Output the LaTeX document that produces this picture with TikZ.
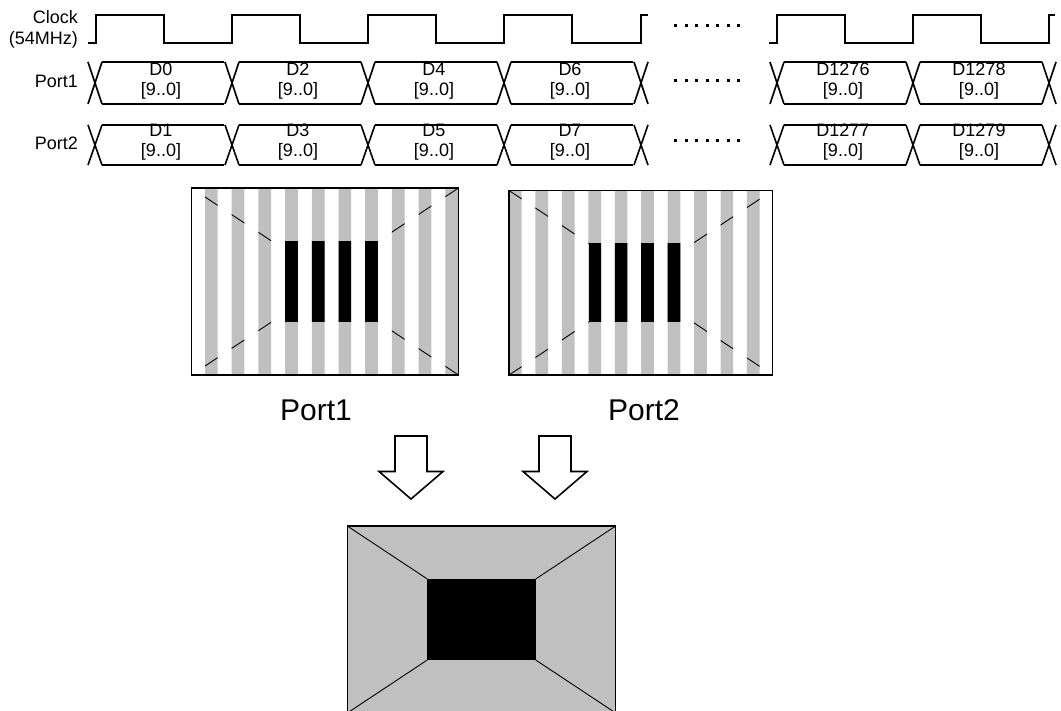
\documentclass[tikz,border=0pt]{standalone}
\usepackage{fontspec}
\setmainfont{Liberation Sans}
\usetikzlibrary{arrows.meta}
\definecolor{midgray}{HTML}{C0C0C0}

% one test frame: gray field, black centre, lines from the corners
\newcommand{\testframe}[4]{%
  \fill[midgray] (#1,#2) rectangle (#3,#4);
  \fill[black] (#1+80,#2+53) rectangle (#3-80,#4-53);
  \draw[diag] (#1,#2) -- (#1+80,#2+53) (#3,#2) -- (#3-80,#2+53)
    (#1,#4) -- (#1+80,#4-53) (#3,#4) -- (#3-80,#4-53);}

\begin{document}
\begin{tikzpicture}[
  x=1pt, y=-1pt,
  sig/.style={line width=1.6pt},
  frame/.style={draw, line width=1.5pt},
  diag/.style={line width=0.9pt},
  blockarrow/.style={draw, fill=white, line width=1.6pt, line join=miter},
  lbl/.style={font=\fontsize{18}{20}\selectfont, inner sep=0pt, align=center},
  rowlbl/.style={font=\fontsize{18}{21}\selectfont, inner sep=0pt, align=right, anchor=east},
  caplbl/.style={font=\fontsize{30}{32}\selectfont, inner sep=0pt}
]
  \clip (0,0) rectangle (1061,711);

  % timing rows
  \node[rowlbl] (clk) at (78,29) {Clock\\(54MHz)};
  \node[rowlbl] (p1) at (78,81) {Port1};
  \node[rowlbl] (p2) at (78,143.5) {Port2};

  \draw[sig] (88,43) foreach \e in {96,232,368,504} {
      -- (\e,43) -- (\e,15) -- (\e+68,15) -- (\e+68,43)}
    -- (641,43) -- (641,15) -- (648,15);
  \draw[sig] (769,43) foreach \e in {777,913} {
      -- (\e,43) -- (\e,15) -- (\e+68,15) -- (\e+68,43)}
    -- (1049,43) -- (1049,15) -- (1055,15);

  \foreach \e in {95,232,368,504,641,777,913,1049} {
    \draw[sig] (\e-7,62) -- (\e+7,104) (\e-7,104) -- (\e+7,62);
    \draw[sig] (\e-7,125) -- (\e+7,165) (\e-7,165) -- (\e+7,125);
  }
  \foreach \e/\a/\b in {95/0/1,232/2/3,368/4/5,504/6/7,777/1276/1277,913/1278/1279} {
    \draw[sig] (\e+7,62) -- (\e+129,62) (\e+7,104) -- (\e+129,104);
    \draw[sig] (\e+7,125) -- (\e+129,125) (\e+7,165) -- (\e+129,165);
    \node[lbl] (d\a) at (\e+66,81) {D\a\\{}[9..0]};
    \node[lbl] (d\b) at (\e+66,142.5) {D\b\\{}[9..0]};
  }
  \foreach \y in {26,81,141}
    \foreach \i in {0,...,6}
      \fill (674+10.5*\i,\y-1.5) rectangle ++(3,3);

  % port 1 frame, odd columns
  \foreach \i in {0,...,9} {
    \begin{scope}
      \clip (205+26.7*\i,188) rectangle ++(12.7,187);
      \testframe{191.5}{188}{458.5}{375}
    \end{scope}
  }
  \draw[frame] (191.5,188) rectangle (458.5,375);
  \node[caplbl] (cap1) at (316,410) {Port1};

  % port 2 frame, even columns
  \foreach \i in {0,...,9} {
    \begin{scope}
      \clip (509+26.44*\i,190.5) rectangle ++(12.7,184.5);
      \testframe{509}{190.5}{772.7}{375}
    \end{scope}
  }
  \draw[frame] (509,190.5) rectangle (772.7,375);
  \node[caplbl] (cap2) at (644,410) {Port2};

  % merge
  \foreach \ax in {411,555}
    \draw[blockarrow] (\ax-16,436) -- (\ax+16,436) -- (\ax+16,471.5)
      -- (\ax+32,471.5) -- (\ax,499) -- (\ax-32,471.5) -- (\ax-16,471.5) -- cycle;

  \testframe{347.3}{526}{615.7}{713}
  \draw[frame] (347.3,526) rectangle (615.7,713);
\end{tikzpicture}
\end{document}
